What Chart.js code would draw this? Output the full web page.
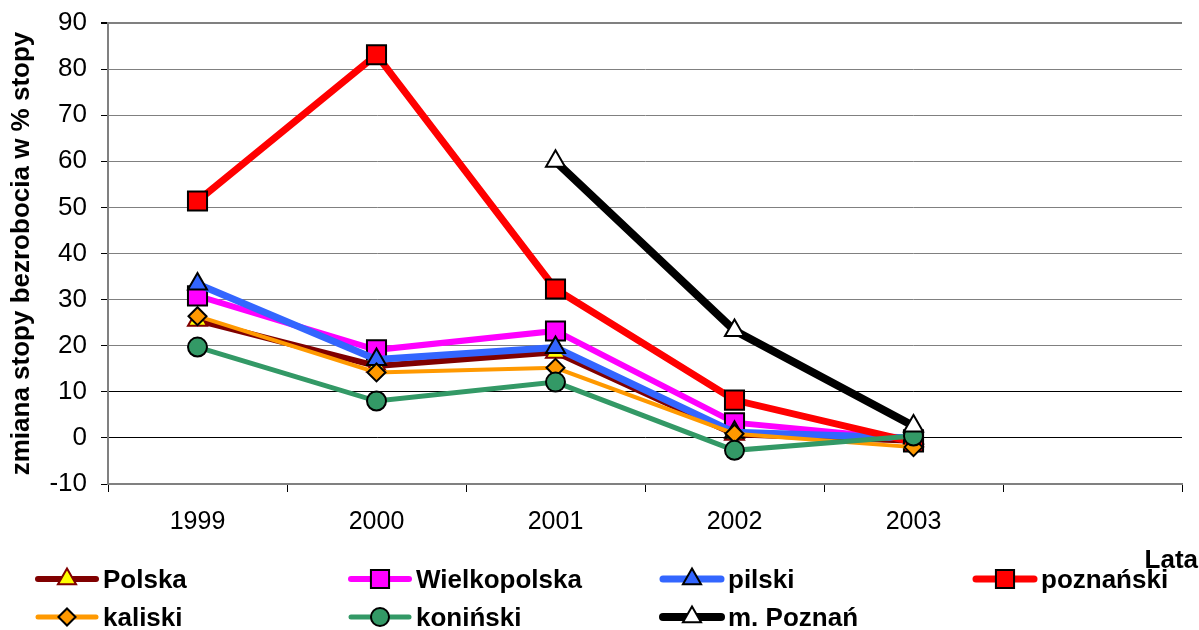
<!DOCTYPE html>
<html>
<head>
<meta charset="utf-8">
<script src="https://cdn.jsdelivr.net/npm/chart.js@4/dist/chart.umd.min.js"></script>
<style>
  body { margin: 0; background: #fff; }
  canvas { display: block; }
</style>
</head>
<body>
<canvas id="chart" width="1199" height="630"></canvas>
<script>
// dane
const categories = ['1999', '2000', '2001', '2002', '2003', ''];
const polska       = [25.5, 15.6, 18.6, 0.8, -0.6, null];
const wielkopolska = [30.8, 19.1, 23.2, 3.3, -0.4, null];
const pilski       = [33.4, 17.0, 19.6, 1.2, 0.0, null];
const poznanski    = [51.4, 83.1, 32.3, 8.2, -0.9, null];
const kaliski      = [26.4, 14.2, 15.2, 0.9, -2.0, null];
const koninski     = [19.7, 8.0, 12.1, -2.7, 0.4, null];
const mPoznan      = [null, null, 60.0, 23.3, 2.6, null];
const yTicks = { min: -10, max: 90, step: 10 };

const FONT = "'Liberation Sans', Arial, sans-serif";

function series(label, data, color, width, style, radius, fill, border, order) {
    return {
        label: label,
        data: data,
        borderColor: color,
        borderWidth: width,
        pointStyle: style,
        pointRadius: radius,
        pointHoverRadius: radius,
        pointBackgroundColor: fill,
        pointBorderColor: border,
        pointBorderWidth: 2,
        tension: 0,
        spanGaps: false,
        order: order
    };
}

const datasets = [
    series('Polska', polska, '#800000', 6, 'triangle', 11, '#FFFF00', '#800000', 7),
    series('Wielkopolska', wielkopolska, '#FF00FF', 6, 'rect', 13.5, '#FF00FF', '#000000', 6),
    series('pilski', pilski, '#3366FF', 7, 'triangle', 11, '#3366FF', '#000000', 5),
    series('poznański', poznanski, '#FF0000', 7, 'rect', 13.5, '#FF0000', '#000000', 4),
    series('kaliski', kaliski, '#FF9900', 4, 'rectRot', 9, '#FF9900', '#000000', 3),
    series('koniński', koninski, '#339966', 5, 'circle', 9.5, '#339966', '#000000', 2),
    series('m. Poznań', mPoznan, '#000000', 8, 'triangle', 11, '#FFFFFF', '#000000', 1)
];

// legenda rysowana ręcznie pod wykresem
const legendPlugin = {
    id: 'customLegend',
    afterDraw(chart) {
        const ctx = chart.ctx;
        const colX = [35, 348, 660, 973];
        const rowY = [579, 617];
        chart.data.datasets.forEach((ds, i) => {
            const x = colX[i % 4];
            const y = rowY[Math.floor(i / 4)];
            ctx.save();
            ctx.strokeStyle = ds.borderColor;
            ctx.lineWidth = Math.max(ds.borderWidth, 5);
            ctx.lineCap = 'round';
            ctx.beginPath();
            ctx.moveTo(x + 3, y);
            ctx.lineTo(x + 61, y);
            ctx.stroke();
            ctx.fillStyle = ds.pointBackgroundColor;
            ctx.strokeStyle = ds.pointBorderColor;
            ctx.lineWidth = ds.pointBorderWidth;
            Chart.helpers.drawPoint(ctx, {
                pointStyle: ds.pointStyle,
                radius: ds.pointRadius * 0.95,
                borderWidth: ds.pointBorderWidth,
                rotation: 0
            }, x + 32, y);
            ctx.fillStyle = '#000';
            ctx.font = 'bold 26px ' + FONT;
            ctx.textAlign = 'left';
            ctx.textBaseline = 'middle';
            ctx.fillText(ds.label, x + 68, y + 2);
            ctx.restore();
        });
        ctx.save();
        ctx.fillStyle = '#000';
        ctx.font = 'bold 26px ' + FONT;
        ctx.textAlign = 'right';
        ctx.textBaseline = 'middle';
        ctx.fillText('Lata', 1198, 561);
        ctx.restore();
    }
};

new Chart(document.getElementById('chart'), {
    type: 'line',
    data: { labels: categories, datasets: datasets },
    plugins: [legendPlugin],
    options: {
        responsive: false,
        devicePixelRatio: 1,
        animation: false,
        layout: { padding: { top: 23, right: 17, left: 0, bottom: 0 } },
        plugins: {
            legend: { display: false },
            tooltip: { enabled: false }
        },
        scales: {
            x: {
                offset: true,
                afterFit: (scale) => { scale.height = 146; },
                border: { color: '#808080', width: 2 },
                grid: {
                    offset: true,
                    drawOnChartArea: false,
                    drawTicks: true,
                    tickLength: 8,
                    tickColor: '#000'
                },
                ticks: {
                    color: '#000',
                    padding: 15,
                    maxRotation: 0,
                    font: { family: FONT, size: 25 }
                }
            },
            y: {
                min: yTicks.min,
                max: yTicks.max,
                afterFit: (scale) => {
                    scale.width = 108;
                    scale.paddingTop = 0;
                    scale.paddingBottom = 0;
                },
                border: { color: '#808080', width: 2 },
                grid: {
                    color: (c) => (c.tick && c.tick.value <= 10 && c.tick.value > -10) ? '#000' : '#808080',
                    lineWidth: (c) => (c.tick && c.tick.value === 90) ? 2 : 1,
                    tickLength: 7,
                    tickColor: '#000'
                },
                ticks: {
                    stepSize: yTicks.step,
                    color: '#000',
                    padding: 14,
                    font: { family: FONT, size: 26 }
                },
                title: {
                    display: true,
                    text: 'zmiana stopy bezrobocia w % stopy',
                    color: '#000',
                    padding: { top: 6, bottom: 0 },
                    font: { family: FONT, size: 26, weight: 'bold' }
                }
            }
        }
    }
});
</script>
</body>
</html>
